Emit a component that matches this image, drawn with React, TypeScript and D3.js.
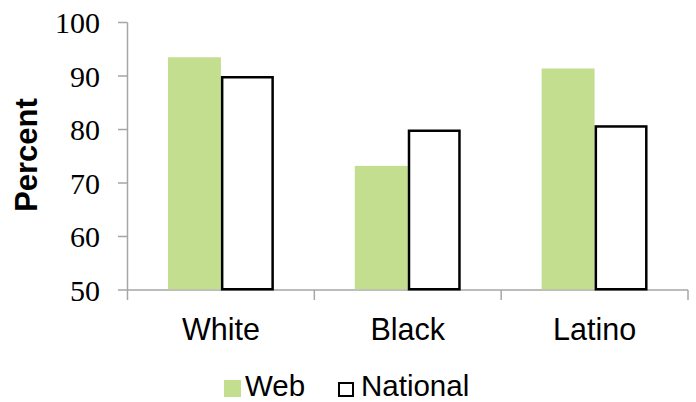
import React from "react";
import * as d3 from "d3";

const categories = ["White", "Black", "Latino"];
const series = ["Web", "National"];
const webValues = [93.5, 73.2, 91.4];
const nationalValues = [90.0, 80.0, 80.8];
const yTicks = [50, 60, 70, 80, 90, 100];

const W = 696;
const H = 402;
const GREEN = "#C3DE8E";
const AXIS = "#A6A6A6";

export default function App() {
  const x0 = d3.scaleBand<string>().domain(categories).range([127.5, 688]).paddingInner(0).paddingOuter(0);
  const x1 = d3.scaleBand<string>().domain(series).range([0, x0.step()]).paddingInner(0).paddingOuter(0.764);
  const y = d3.scaleLinear().domain([50, 100]).range([290, 22.5]);
  const valuesBySeries: Record<string, number[]> = { Web: webValues, National: nationalValues };

  const bounds = [...categories.map((c) => x0(c) as number), 688];

  return (
    <svg width={W} height={H} style={{ position: "absolute", left: 0, top: 0, background: "#fff" }}>
      {/* y axis */}
      <line x1={127.5} x2={127.5} y1={y(100)} y2={y(50)} stroke={AXIS} strokeWidth={1.5} />
      {yTicks.map((t) => (
        <g key={t}>
          <line x1={118} x2={127.5} y1={y(t)} y2={y(t)} stroke={AXIS} strokeWidth={1.5} />
          <text
            x={100}
            y={y(t)}
            dy="0.35em"
            textAnchor="end"
            fontFamily="'Liberation Serif', 'Times New Roman', serif"
            fontSize={30}
            fill="#000"
          >
            {t}
          </text>
        </g>
      ))}
      {/* x axis */}
      <line x1={127.5} x2={688} y1={y(50)} y2={y(50)} stroke={AXIS} strokeWidth={1.5} />
      {bounds.map((b, i) => (
        <line key={i} x1={b} x2={b} y1={y(50)} y2={y(50) + 10} stroke={AXIS} strokeWidth={1.5} />
      ))}
      {/* bars */}
      {categories.map((c, i) =>
        series.map((s) => {
          const v = valuesBySeries[s][i];
          const bx = (x0(c) as number) + (x1(s) as number);
          const bw = x1.bandwidth();
          if (s === "Web") {
            return <rect key={c + s} x={bx} y={y(v)} width={bw} height={y(50) - y(v) - 0.75} fill={GREEN} />;
          }
          return (
            <rect
              key={c + s}
              x={bx + 1.25}
              y={y(v) + 1.25}
              width={bw - 2.5}
              height={y(50) - y(v) - 2}
              fill="#fff"
              stroke="#000"
              strokeWidth={2.5}
            />
          );
        })
      )}
      {categories.map((c) => (
        <text
          key={c}
          x={(x0(c) as number) + x0.bandwidth() / 2}
          y={340}
          textAnchor="middle"
          fontFamily="'Liberation Sans', Arial, sans-serif"
          fontSize={30.5}
          fill="#000"
        >
          {c}
        </text>
      ))}
      {/* y title */}
      <text
        transform={`translate(37,155) rotate(-90)`}
        textAnchor="middle"
        fontFamily="'Liberation Sans', Arial, sans-serif"
        fontWeight="bold"
        fontSize={31}
        fill="#000"
      >
        Percent
      </text>
      {/* legend */}
      <rect x={224} y={380} width={17} height={17} fill={GREEN} />
      <text x={245} y={396} fontFamily="'Liberation Sans', Arial, sans-serif" fontSize={29.5} fill="#000">
        {series[0]}
      </text>
      <rect x={339} y={383} width={14} height={13} fill="#fff" stroke="#000" strokeWidth={2} />
      <text x={361} y={396} fontFamily="'Liberation Sans', Arial, sans-serif" fontSize={29.5} fill="#000">
        {series[1]}
      </text>
    </svg>
  );
}
